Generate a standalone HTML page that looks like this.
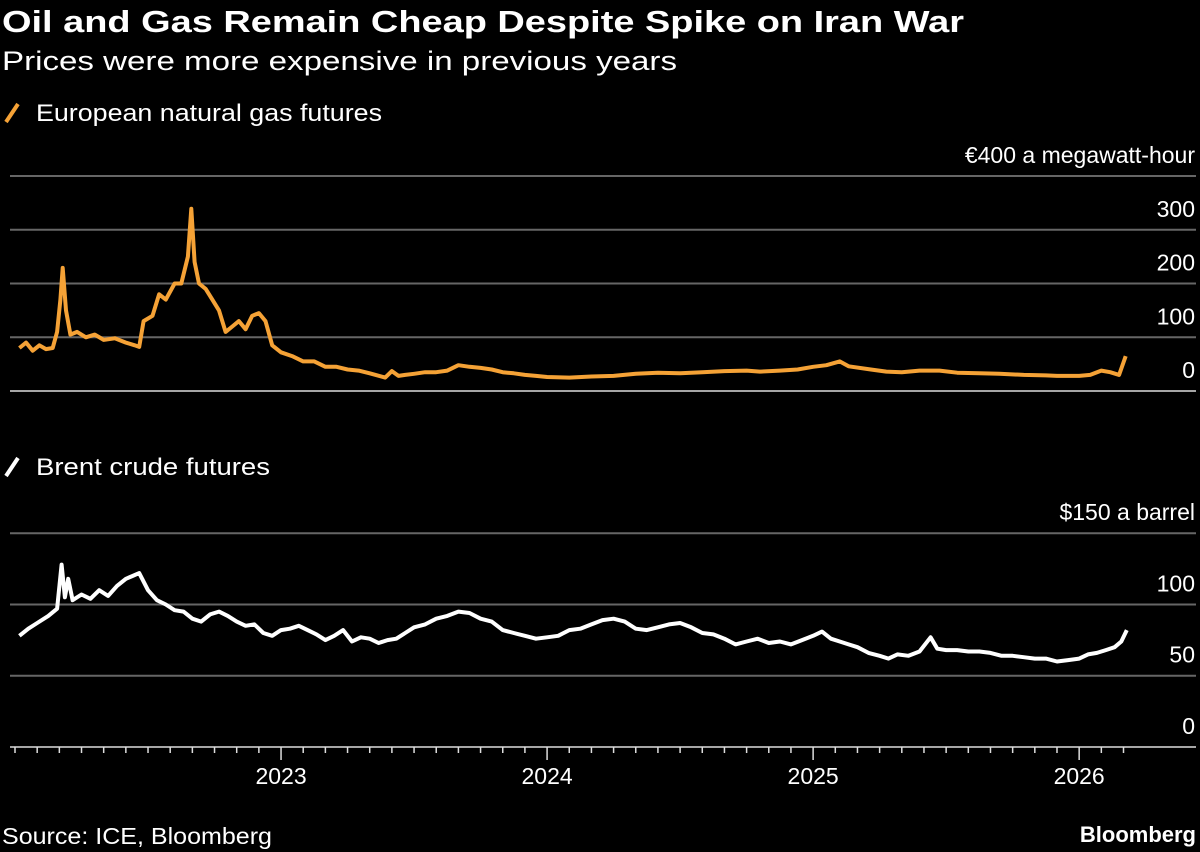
<!DOCTYPE html>
<html><head><meta charset="utf-8"><style>
html,body{margin:0;padding:0;background:#000;}
svg{display:block;font-family:"Liberation Sans",sans-serif;}
</style></head><body>
<svg id="chart" width="1200" height="852" viewBox="0 0 1200 852" xmlns="http://www.w3.org/2000/svg">
<rect width="1200" height="852" fill="#000"/>
<text x="2" y="32" fill="#fff" font-size="31" font-weight="bold" textLength="962" lengthAdjust="spacingAndGlyphs">Oil and Gas Remain Cheap Despite Spike on Iran War</text>
<text x="2" y="70" fill="#fff" font-size="27" textLength="675" lengthAdjust="spacingAndGlyphs">Prices were more expensive in previous years</text>
<g>
<line x1="6" y1="122" x2="18" y2="104" stroke="#f5a236" stroke-width="4"/>
<text x="36" y="121" fill="#fff" font-size="24" textLength="346" lengthAdjust="spacingAndGlyphs">European natural gas futures</text>
</g>
<g>
<line x1="6" y1="476" x2="18" y2="458" stroke="#fff" stroke-width="4"/>
<text x="36" y="475" fill="#fff" font-size="24" textLength="234" lengthAdjust="spacingAndGlyphs">Brent crude futures</text>
</g>
<g id="gasGrid"></g><g id="oilGrid"></g><g id="xaxis"></g>
<path id="gasLine" fill="none" stroke="#f5a236" stroke-width="4" stroke-linejoin="round"/>
<path id="oilLine" fill="none" stroke="#fff" stroke-width="4" stroke-linejoin="round"/>
<text x="2" y="844" fill="#fff" font-size="23" textLength="270" lengthAdjust="spacingAndGlyphs">Source: ICE, Bloomberg</text>
<text x="1196" y="842" fill="#fff" font-size="22" font-weight="bold" text-anchor="end">Bloomberg</text>
</svg>
<script>
// months since Jan 1 2022
const gasT = [0.2,0.5,0.8,1.1,1.4,1.7,1.9,2.05,2.15,2.3,2.5,2.8,3.2,3.6,4.0,4.5,5.0,5.4,5.6,5.8,6.2,6.5,6.8,7.2,7.5,7.8,7.95,8.1,8.3,8.6,8.9,9.2,9.5,9.8,10.1,10.4,10.7,11.0,11.3,11.6,12.0,12.5,13.0,13.5,14.0,14.5,15.0,15.5,16.0,16.7,17.0,17.3,17.6,18.0,18.5,19.0,19.5,20.0,20.5,21.0,21.5,22.0,22.5,23.0,23.5,24.0,25.0,26.0,27.0,28.0,29.0,30.0,31.0,32.0,33.0,33.6,34.5,35.3,36.0,36.6,37.2,37.6,38.6,39.3,40.0,40.8,41.7,42.5,43.5,44.4,45.5,46.5,47.0,48.0,48.5,49.0,49.4,49.8,50.1];
const gasV = [80,90,75,85,78,80,110,170,229,150,105,110,100,105,95,98,90,85,82,130,140,180,170,200,200,250,339,240,200,190,170,150,110,120,130,115,140,145,130,85,72,65,55,55,45,45,40,38,33,25,37,28,30,32,35,35,38,48,45,43,40,35,33,30,28,26,25,27,28,32,34,33,35,37,38,36,38,40,45,48,55,46,40,36,35,38,38,34,33,32,30,29,28,28,30,38,35,30,65];
const oilT = [0.2,0.6,1.0,1.5,1.9,2.1,2.25,2.4,2.6,3.0,
3.4,3.8,4.2,4.6,5.0,5.3,5.6,6.0,6.4,6.8,
7.2,7.6,8.0,8.4,8.8,9.2,9.6,10.0,10.4,10.8,
11.2,11.6,12.0,12.4,12.8,13.2,13.6,14.0,14.4,14.8,
15.2,15.6,16.0,16.4,16.8,17.2,17.6,18.0,18.5,19.0,
19.5,20.0,20.5,21.0,21.5,22.0,22.5,23.0,23.5,24.0,
24.5,25.0,25.5,26.0,26.5,27.0,27.5,28.0,28.5,29.0,
29.5,30.0,30.5,31.0,31.5,32.0,32.5,33.0,33.5,34.0,
34.5,35.0,35.5,36.0,36.4,36.8,37.2,37.6,38.0,38.5,
39.0,39.4,39.8,40.3,40.8,41.3,41.6,42.0,42.5,43.0,
43.5,44.0,44.5,45.0,45.5,46.0,46.5,47.0,47.5,48.0,
48.4,48.8,49.2,49.6,49.9,50.15];
const oilV = [78,83,87,92,97,128,105,118,103,107,
104,110,106,113,118,120,122,110,103,100,
96,95,90,88,93,95,92,88,85,86,
80,78,82,83,85,82,79,75,78,82,
74,77,76,73,75,76,80,84,86,90,
92,95,94,90,88,82,80,78,76,77,
78,82,83,86,89,90,88,83,82,84,
86,87,84,80,79,76,72,74,76,73,
74,72,75,78,81,76,74,72,70,66,
64,62,65,64,67,77,69,68,68,67,
67,66,64,64,63,62,62,60,61,62,
65,66,68,70,74,82];
const gasTicks=[0,100,200,300,400], oilTicks=[0,50,100,150];
const years=["2023","2024","2025","2026"];
const NS="http://www.w3.org/2000/svg";
const X=t=>15+t*22.17;
const gY=v=>391-v*0.5375;
const oY=v=>747-v*1.4253;
function mk(tag,attrs,parent){const e=document.createElementNS(NS,tag);for(const k in attrs)e.setAttribute(k,attrs[k]);parent.appendChild(e);return e;}
const gg=document.getElementById('gasGrid');
gasTicks.forEach(v=>{
 const l=mk('line',{x1:10,x2:1196,y1:gY(v),y2:gY(v),stroke:v===0?'#ddd':'#666','stroke-width':v===0?1.5:2},gg);
 
 
 const t=mk('text',{x:1195,y:gY(v)-13,fill:'#fff','font-size':23,'text-anchor':'end'},gg);
 t.textContent=v===400?'€400 a megawatt-hour':String(v);
 
 
});
const og=document.getElementById('oilGrid');
oilTicks.forEach(v=>{
 if(v>0){const l=mk('line',{x1:10,x2:1196,y1:oY(v),y2:oY(v),stroke:'#666','stroke-width':2},og);
 
 }
 const t=mk('text',{x:1195,y:oY(v)-13,fill:'#fff','font-size':23,'text-anchor':'end'},og);
 t.textContent=v===150?'$150 a barrel':String(v);
 
 
});
const xa=document.getElementById('xaxis');
const base=mk('line',{x1:10,x2:1196,y1:747,y2:747,stroke:'#ddd','stroke-width':1.5},xa);


for(let m=0;m<=50;m++){
 const yr=m%12===0&&m>0;
 const tk=mk('line',{x1:X(m),x2:X(m),y1:747,y2:yr?760:753,stroke:'#ddd','stroke-width':1.5},xa);
 
 
}
years.forEach((y,i)=>{
 const t=mk('text',{x:X(12*(i+1)),y:784,fill:'#fff','font-size':23,'text-anchor':'middle'},xa);
 t.textContent=y;
 
 
});
document.getElementById('gasLine').setAttribute('d',gasT.map((t,i)=>(i?'L':'M')+X(t).toFixed(1)+' '+gY(gasV[i]).toFixed(1)).join(' '));
document.getElementById('oilLine').setAttribute('d',oilT.map((t,i)=>(i?'L':'M')+X(t).toFixed(1)+' '+oY(oilV[i]).toFixed(1)).join(' '));
</script>
</body></html>
